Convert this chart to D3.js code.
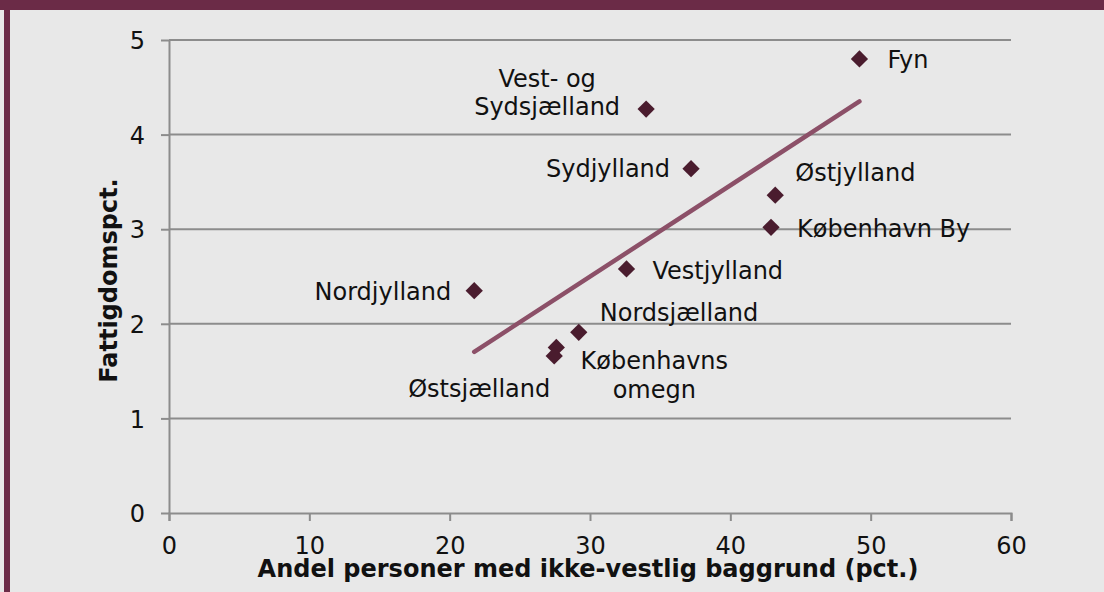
<!DOCTYPE html>
<html>
<head>
<meta charset="utf-8">
<script src="https://cdn.jsdelivr.net/npm/d3@7"></script>
<style>
  html, body { margin: 0; padding: 0; background: #e8e8e8; }
  svg { display: block; font-family: "DejaVu Sans", Verdana, sans-serif; }
</style>
</head>
<body>
<svg></svg>
<script>
// Regions, x = andel med ikke-vestlig baggrund (pct.), y = fattigdomspct.
const regions = ["Fyn", "Vest- og Sydsjælland", "Sydjylland", "Østjylland", "København By",
  "Vestjylland", "Nordjylland", "Nordsjælland", "Københavns omegn", "Østsjælland"];
const shareNonWestern = [49.2, 34.0, 37.2, 43.2, 42.9, 32.6, 21.75, 29.2, 27.6, 27.45];
const povertyPct = [4.80, 4.27, 3.64, 3.36, 3.02, 2.58, 2.35, 1.91, 1.75, 1.66];
const xTicks = [0, 10, 20, 30, 40, 50, 60];
const yTicks = [0, 1, 2, 3, 4, 5];

// Label placement per point: [lines, anchor, dx, dy of first line]
const labelPos = [
  [["Fyn"], "start", 28, 0],
  [["Vest- og", "Sydsjælland"], "middle", -99, -31],
  [["Sydjylland"], "end", -21, 0],
  [["Østjylland"], "start", 20, -23],
  [["København By"], "start", 26, 1],
  [["Vestjylland"], "start", 26, 1],
  [["Nordjylland"], "end", -23, 1],
  [["Nordsjælland"], "start", 21, -20],
  [["Københavns", "omegn"], "middle", 98, 13],
  [["Østsjælland"], "end", -4, 32]
];

const svgWidth = 1104, svgHeight = 592;
const margin = { top: 40, right: 93, bottom: 79, left: 169 };
const w = svgWidth - margin.left - margin.right;
const h = svgHeight - margin.top - margin.bottom;
const fontSize = "24px";

const root = d3.select("svg").attr("width", svgWidth).attr("height", svgHeight);

// frame
root.append("rect").attr("x", 0).attr("y", 0).attr("width", svgWidth).attr("height", svgHeight).attr("fill", "#e8e8e8");
root.append("rect").attr("x", 0).attr("y", 0).attr("width", svgWidth).attr("height", 10).attr("fill", "#6b2b47");
root.append("rect").attr("x", 4).attr("y", 0).attr("width", 6).attr("height", svgHeight).attr("fill", "#6b2b47");

const svg = root.append("g").attr("transform", `translate(${margin.left}, ${margin.top})`);

const xScale = d3.scaleLinear().domain([0, 60]).range([0, w]);
const yScale = d3.scaleLinear().domain([0, 5]).range([h, 0]);

// gridlines
svg.selectAll(".grid").data(yTicks.filter(d => d > 0)).enter()
  .append("line")
  .attr("x1", 0).attr("x2", w)
  .attr("y1", d => yScale(d)).attr("y2", d => yScale(d))
  .attr("stroke", "#8c8c8c").attr("stroke-width", 2);

// axes
const xAxis = d3.axisBottom(xScale).tickValues(xTicks).tickFormat(d3.format("d"))
  .tickSize(8).tickSizeOuter(8).tickPadding(16);
const yAxis = d3.axisLeft(yScale).tickValues(yTicks).tickFormat(d3.format("d"))
  .tickSize(8).tickSizeOuter(0).tickPadding(16);

const gx = svg.append("g").attr("transform", `translate(0, ${h})`).call(xAxis);
const gy = svg.append("g").call(yAxis);
[gx, gy].forEach(g => {
  g.select(".domain").attr("stroke", "#8c8c8c").attr("stroke-width", 2);
  g.selectAll(".tick line").attr("stroke", "#8c8c8c").attr("stroke-width", 2);
  g.selectAll(".tick text").attr("fill", "#111").attr("font-size", fontSize)
    .attr("font-family", "DejaVu Sans, sans-serif");
});
gy.selectAll(".tick text").attr("dy", "0.36em");

// trend line (least squares)
const mx = d3.mean(shareNonWestern), my = d3.mean(povertyPct);
const slope = d3.sum(shareNonWestern, (x, i) => (x - mx) * (povertyPct[i] - my)) /
              d3.sum(shareNonWestern, x => (x - mx) * (x - mx));
const intercept = my - slope * mx;
const ext = d3.extent(shareNonWestern);
svg.append("line")
  .attr("x1", xScale(ext[0])).attr("y1", yScale(intercept + slope * ext[0]))
  .attr("x2", xScale(ext[1])).attr("y2", yScale(intercept + slope * ext[1]))
  .attr("stroke", "#8c5068").attr("stroke-width", 4.5).attr("stroke-linecap", "round");

// points
const diamond = d3.symbol().type(d3.symbolDiamond2).size(190);
svg.selectAll(".pt").data(regions).enter()
  .append("path")
  .attr("d", diamond)
  .attr("transform", (d, i) => `translate(${xScale(shareNonWestern[i])}, ${yScale(povertyPct[i])})`)
  .attr("fill", "#4a1c2e");

// labels
regions.forEach((r, i) => {
  const [lines, anchor, dx, dy] = labelPos[i];
  const t = svg.append("text")
    .attr("x", xScale(shareNonWestern[i]) + dx)
    .attr("y", yScale(povertyPct[i]) + dy)
    .attr("text-anchor", anchor)
    .attr("font-size", fontSize)
    .attr("fill", "#111");
  lines.forEach((ln, k) => {
    t.append("tspan").attr("x", xScale(shareNonWestern[i]) + dx).attr("dy", k === 0 ? "0.36em" : "1.2em").text(ln);
  });
});

// axis titles
svg.append("text")
  .attr("x", w / 2 - 2).attr("y", h + 64)
  .attr("text-anchor", "middle").attr("font-weight", "bold").attr("font-size", fontSize).attr("fill", "#111")
  .text("Andel personer med ikke-vestlig baggrund (pct.)");

svg.append("text")
  .attr("transform", `translate(-52, ${h / 2 + 4}) rotate(-90)`)
  .attr("text-anchor", "middle").attr("font-weight", "bold").attr("font-size", fontSize).attr("fill", "#111")
  .text("Fattigdomspct.");
</script>
</body>
</html>
